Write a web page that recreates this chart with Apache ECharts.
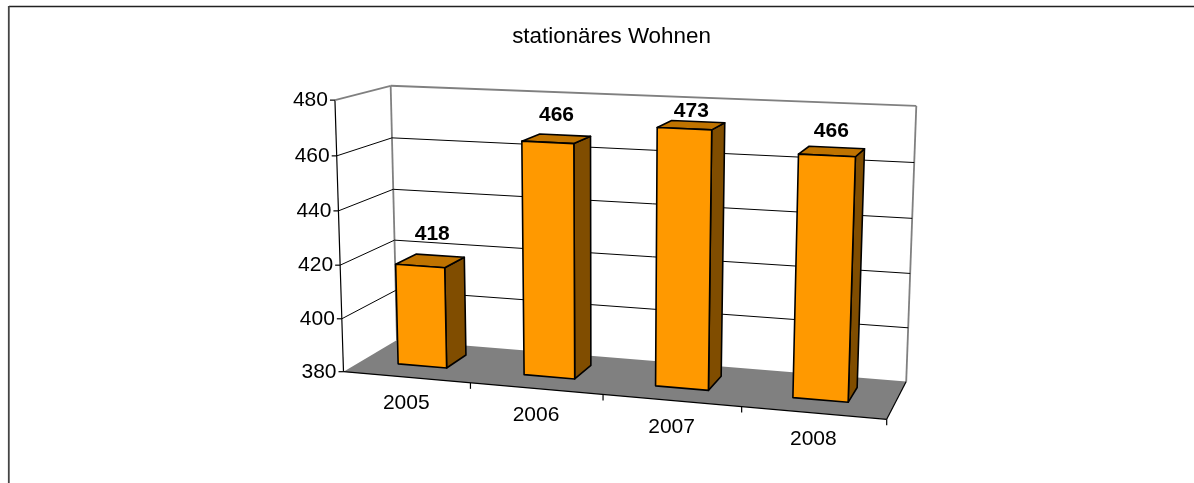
<!DOCTYPE html>
<html><head><meta charset="utf-8">
<style>html,body{margin:0;padding:0;background:#fff}#c{width:1194px;height:483px}</style>
<script src="https://cdn.jsdelivr.net/npm/echarts@6/dist/echarts.min.js"></script>
</head><body><div id="c"></div>
<script>
// ---- data ----
const titleText = 'stationäres Wohnen';
const categories = ['2005', '2006', '2007', '2008'];
const values = [418, 466, 473, 466];
const valueTicks = [380, 400, 420, 440, 460, 480];

// ---- style / layout, separate from the data ----
const FONT = '"Liberation Sans", Arial, sans-serif';
// perspective camera: floor corners, depth weights, vertical vanishing point
const CAM = { o: [343.5, 371.7], x: [886.7, 419.3], z: [397, 340], qx: 0.915, qz: 1.07, vp: [604, 8640], k: -0.0318 };
const BAR_DEPTH = [0.33, 0.73];
const BAR_WIDTH = 0.39;
const BAR_SHIFT = -0.0025;
const LABEL_NUDGE = [[2, -27], [0, -24], [0, -14], [-0.5, -20]];

function project(u, v, w) {
  const c = CAM;
  const comp = i => c.o[i] + u * (c.qx * c.x[i] - c.o[i]) + w * (c.qz * c.z[i] - c.o[i]) + v * c.k * c.vp[i];
  const q = 1 + u * (c.qx - 1) + w * (c.qz - 1) + v * c.k;
  return [comp(0) / q, comp(1) / q];
}
// plot-rectangle position from the (hidden) cartesian axes -> unit cube
function toUnit(params, pt) {
  const s = params.coordSys;
  return [(pt[0] - s.x) / s.width, 1 - (pt[1] - s.y) / s.height];
}
function line(a, b, stroke, lineWidth) {
  return { type: 'line', shape: { x1: a[0], y1: a[1], x2: b[0], y2: b[1] },
    style: { stroke, lineWidth, fill: null } };
}
function poly(points, fill) {
  return { type: 'polygon', shape: { points },
    style: { fill, stroke: '#000', lineWidth: 1.6, lineJoin: 'round' } };
}
function text(x, y, str, size, weight, align) {
  return { type: 'text', x, y, style: { text: str, fill: '#000', font: `${weight} ${size}px ${FONT}`,
    align, verticalAlign: 'middle' } };
}

// walls, floor and value-axis ticks: one item per tick value
function renderTick(params, api) {
  const v = toUnit(params, api.coord([0, api.value(0)]))[1];
  const kids = [];
  const a = project(0, v, 0), b = project(0, v, 1), c = project(1, v, 1);
  if (v < 0.001) {
    kids.push({ type: 'polygon',
      shape: { points: [project(0, 0, 0), project(1, 0, 0), project(1, 0, 1), project(0, 0, 1)] },
      style: { fill: '#808080' } });
    kids.push(line(project(0, 1, 1), project(0, 0, 1), '#808080', 1.8));
    kids.push(line(project(1, 1, 1), project(1, 0, 1), '#808080', 1.8));
    kids.push(line(project(0, 0, 0), project(1, 0, 0), '#000', 1.2));
    kids.push(line(project(1, 0, 0), project(1, 0, 1), '#000', 1.2));
    kids.push(line(project(0, 0, 0), project(0, 1, 0), '#000', 1.2));
  } else if (v > 0.999) {
    kids.push(line(a, b, '#808080', 1.8), line(b, c, '#808080', 1.8));
  } else {
    kids.push(line(a, b, '#000', 1), line(b, c, '#000', 1));
  }
  kids.push(line([a[0] - 5, a[1]], a, '#000', 1.2));
  kids.push(text(a[0] - 7, a[1] + 0.5, String(api.value(0)), 21, 'normal', 'right'));
  return { type: 'group', children: kids };
}

// one item per category: tick below the front edge and its label
function renderCategory(params, api) {
  const p = toUnit(params, api.coord([api.value(0), 380]));
  const du = api.size([1, 0])[0] / params.coordSys.width;
  const e1 = project(p[0] + du / 2, 0, 0), m = project(p[0], 0, 0);
  return { type: 'group', children: [
    line(e1, [e1[0], e1[1] + 6], '#000', 1.2),
    text(m[0], m[1] + 26.5, categories[api.value(0)], 21, 'normal', 'center')
  ] };
}

function renderBar(params, api) {
  const i = api.value(0), val = api.value(1);
  const p = toUnit(params, api.coord([i, val]));
  const du = api.size([1, 0])[0] / params.coordSys.width * BAR_WIDTH;
  const u0 = p[0] + BAR_SHIFT - du / 2, u1 = p[0] + BAR_SHIFT + du / 2, v = p[1];
  const w0 = BAR_DEPTH[0], w1 = BAR_DEPTH[1];
  const ft0 = project(u0, v, w0), ft1 = project(u1, v, w0), bt0 = project(u0, v, w1), bt1 = project(u1, v, w1);
  const fb0 = project(u0, 0, w0), fb1 = project(u1, 0, w0), bb1 = project(u1, 0, w1);
  const nudge = LABEL_NUDGE[i];
  const cx = (ft0[0] + ft1[0] + bt0[0] + bt1[0]) / 4, cy = (ft0[1] + ft1[1] + bt0[1] + bt1[1]) / 4;
  return { type: 'group', children: [
    poly([fb1, bb1, bt1, ft1], '#804D00'),
    poly([ft0, ft1, bt1, bt0], '#BF7300'),
    poly([fb0, fb1, ft1, ft0], '#FF9900'),
    text(cx + nudge[0], cy + nudge[1], String(val), 21, 'bold', 'center')
  ] };
}

const chart = echarts.init(document.getElementById('c'));
chart.setOption({
  animation: false,
  backgroundColor: '#fff',
  title: { text: titleText, left: 606.5, top: 21, textAlign: 'center',
    textStyle: { fontFamily: FONT, fontSize: 22.4, fontWeight: 'normal', color: '#000' } },
  grid: { left: 100, right: 100, top: 60, bottom: 60 },
  xAxis: { type: 'category', data: categories, show: false },
  yAxis: { type: 'value', min: 380, max: 480, interval: 20, show: false },
  graphic: [
    { type: 'line', shape: { x1: 9, y1: 6.5, x2: 1194, y2: 6.5 }, style: { stroke: '#222', lineWidth: 1.6 } },
    { type: 'line', shape: { x1: 8.8, y1: 6, x2: 8.8, y2: 483 }, style: { stroke: '#444', lineWidth: 1.8 } }
  ],
  series: [
    { type: 'custom', z: 1, silent: true, clip: false, renderItem: renderTick,
      data: valueTicks.map(t => [t]), encode: { y: 0 } },
    { type: 'custom', z: 2, silent: true, clip: false, renderItem: renderCategory,
      data: categories.map((c, i) => [i]), encode: { x: 0 } },
    { type: 'custom', z: 3, silent: true, clip: false, renderItem: renderBar,
      data: values.map((v, i) => [i, v]), encode: { x: 0, y: 1 } }
  ]
});
</script></body></html>
